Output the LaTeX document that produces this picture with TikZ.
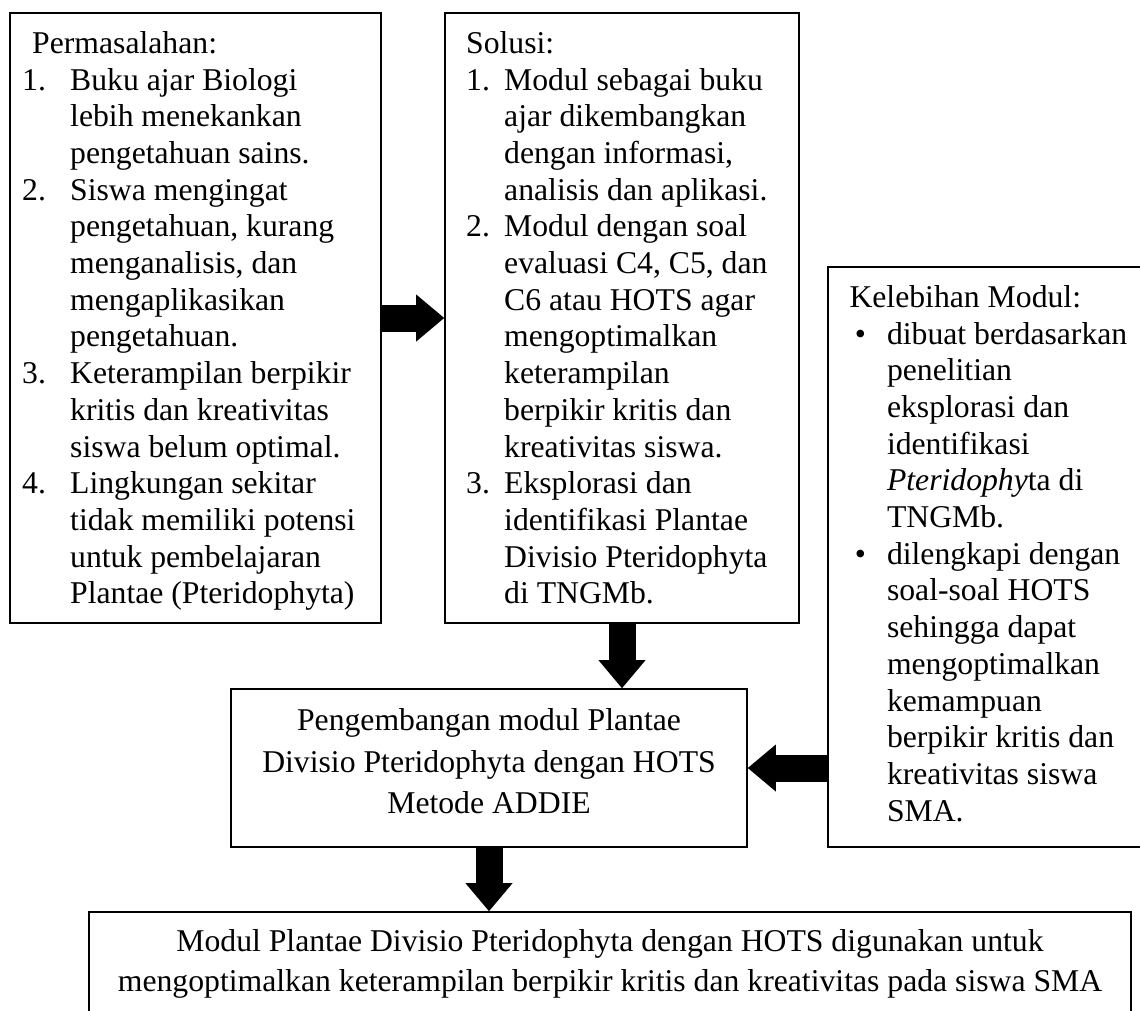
\documentclass[tikz,border=0pt]{standalone}
\usepackage{fontspec}
\setmainfont{Liberation Serif}
\usetikzlibrary{calc}
\newcommand\lab[2]{\makebox[#1][l]{#2}}
\newcommand\blockarrow[2]{%
  \path (#1) coordinate (s) (#2) coordinate (e);
  \coordinate (hb) at ($(e)!28pt!(s)$);
  \draw[arrowshaft] (s) -- ($(e)!27pt!(s)$);
  \fill (e) -- ($(hb)!23.5pt!90:(e)$) -- ($(hb)!23.5pt!-90:(e)$) -- cycle;
}
\begin{document}
\begin{tikzpicture}[x=1pt,y=-1pt,
  box/.style={draw, line width=1.6pt, inner sep=0pt},
  txt/.style={inner sep=0pt, anchor=base west, font=\fontsize{31.7}{36.7}\selectfont},
  ctxt/.style={inner sep=0pt, anchor=base, font=\fontsize{31.7}{#1}\selectfont},
  arrowshaft/.style={line width=27pt}]
\useasboundingbox (0,0) rectangle (1140,1010);
\fill[white] (0,0) rectangle (1140,1010);
\clip (0,0) rectangle (1140,1010);

% boxes
\node[box, minimum width=371pt, minimum height=610pt] (b1) at (195.5,318) {};
\node[box, minimum width=354pt, minimum height=610pt] (b2) at (622,318) {};
\node[box, minimum width=322pt, minimum height=580pt] (b3) at (989,557) {};
\node[box, minimum width=516pt, minimum height=158pt] (b4) at (489,768) {};
\node[box, minimum width=1042pt, minimum height=101pt] (b5) at (610,962.5) {};

% texts
\node[txt] (t1) at (22,53.3) {\begin{tabular}[t]{@{}l@{}}
\hspace*{10pt}Permasalahan:\\
\lab{48pt}{1.}Buku ajar Biologi\\
\hspace*{48pt}lebih menekankan\\
\hspace*{48pt}pengetahuan sains.\\
\lab{48pt}{2.}Siswa mengingat\\
\hspace*{48pt}pengetahuan, kurang\\
\hspace*{48pt}menganalisis, dan\\
\hspace*{48pt}mengaplikasikan\\
\hspace*{48pt}pengetahuan.\\
\lab{48pt}{3.}Keterampilan berpikir\\
\hspace*{48pt}kritis dan kreativitas\\
\hspace*{48pt}siswa belum optimal.\\
\lab{48pt}{4.}Lingkungan sekitar\\
\hspace*{48pt}tidak memiliki potensi\\
\hspace*{48pt}untuk pembelajaran\\
\hspace*{48pt}Plantae (Pteridophyta)
\end{tabular}};

\node[txt] (t2) at (466,53.3) {\begin{tabular}[t]{@{}l@{}}
Solusi:\\
\lab{38pt}{1.}Modul sebagai buku\\
\hspace*{38pt}ajar dikembangkan\\
\hspace*{38pt}dengan informasi,\\
\hspace*{38pt}analisis dan aplikasi.\\
\lab{38pt}{2.}Modul dengan soal\\
\hspace*{38pt}evaluasi C4, C5, dan\\
\hspace*{38pt}C6 atau HOTS agar\\
\hspace*{38pt}mengoptimalkan\\
\hspace*{38pt}keterampilan\\
\hspace*{38pt}berpikir kritis dan\\
\hspace*{38pt}kreativitas siswa.\\
\lab{38pt}{3.}Eksplorasi dan\\
\hspace*{38pt}identifikasi Plantae\\
\hspace*{38pt}Divisio Pteridophyta\\
\hspace*{38pt}di TNGMb.
\end{tabular}};

\node[txt] (t3) at (849.3,307.3) {\begin{tabular}[t]{@{}l@{}}
Kelebihan Modul:\\
\lab{37.5pt}{\,•}dibuat berdasarkan\\
\hspace*{37.5pt}penelitian\\
\hspace*{37.5pt}eksplorasi dan\\
\hspace*{37.5pt}identifikasi\\
\hspace*{37.5pt}\textit{Pteridophy}ta di\\
\hspace*{37.5pt}TNGMb.\\
\lab{37.5pt}{\,•}dilengkapi dengan\\
\hspace*{37.5pt}soal-soal HOTS\\
\hspace*{37.5pt}sehingga dapat\\
\hspace*{37.5pt}mengoptimalkan\\
\hspace*{37.5pt}kemampuan\\
\hspace*{37.5pt}berpikir kritis dan\\
\hspace*{37.5pt}kreativitas siswa\\
\hspace*{37.5pt}SMA.
\end{tabular}};

\node[ctxt=41.3] (t4) at (489,730.7) {\begin{tabular}[t]{@{}c@{}}
Pengembangan modul Plantae\\
Divisio Pteridophyta dengan HOTS\\
Metode ADDIE
\end{tabular}};

\node[ctxt=40] (t5) at (610,951.7) {\begin{tabular}[t]{@{}c@{}}
Modul Plantae Divisio Pteridophyta dengan HOTS digunakan untuk\\
mengoptimalkan keterampilan berpikir kritis dan kreativitas pada siswa SMA
\end{tabular}};

% connectors
\blockarrow{b1.east}{b2.west}
\blockarrow{b2.south}{b2.south |- b4.north}
\blockarrow{b3.west |- b4.east}{b4.east}
\blockarrow{b4.south}{b4.south |- b5.north}
\end{tikzpicture}
\end{document}
